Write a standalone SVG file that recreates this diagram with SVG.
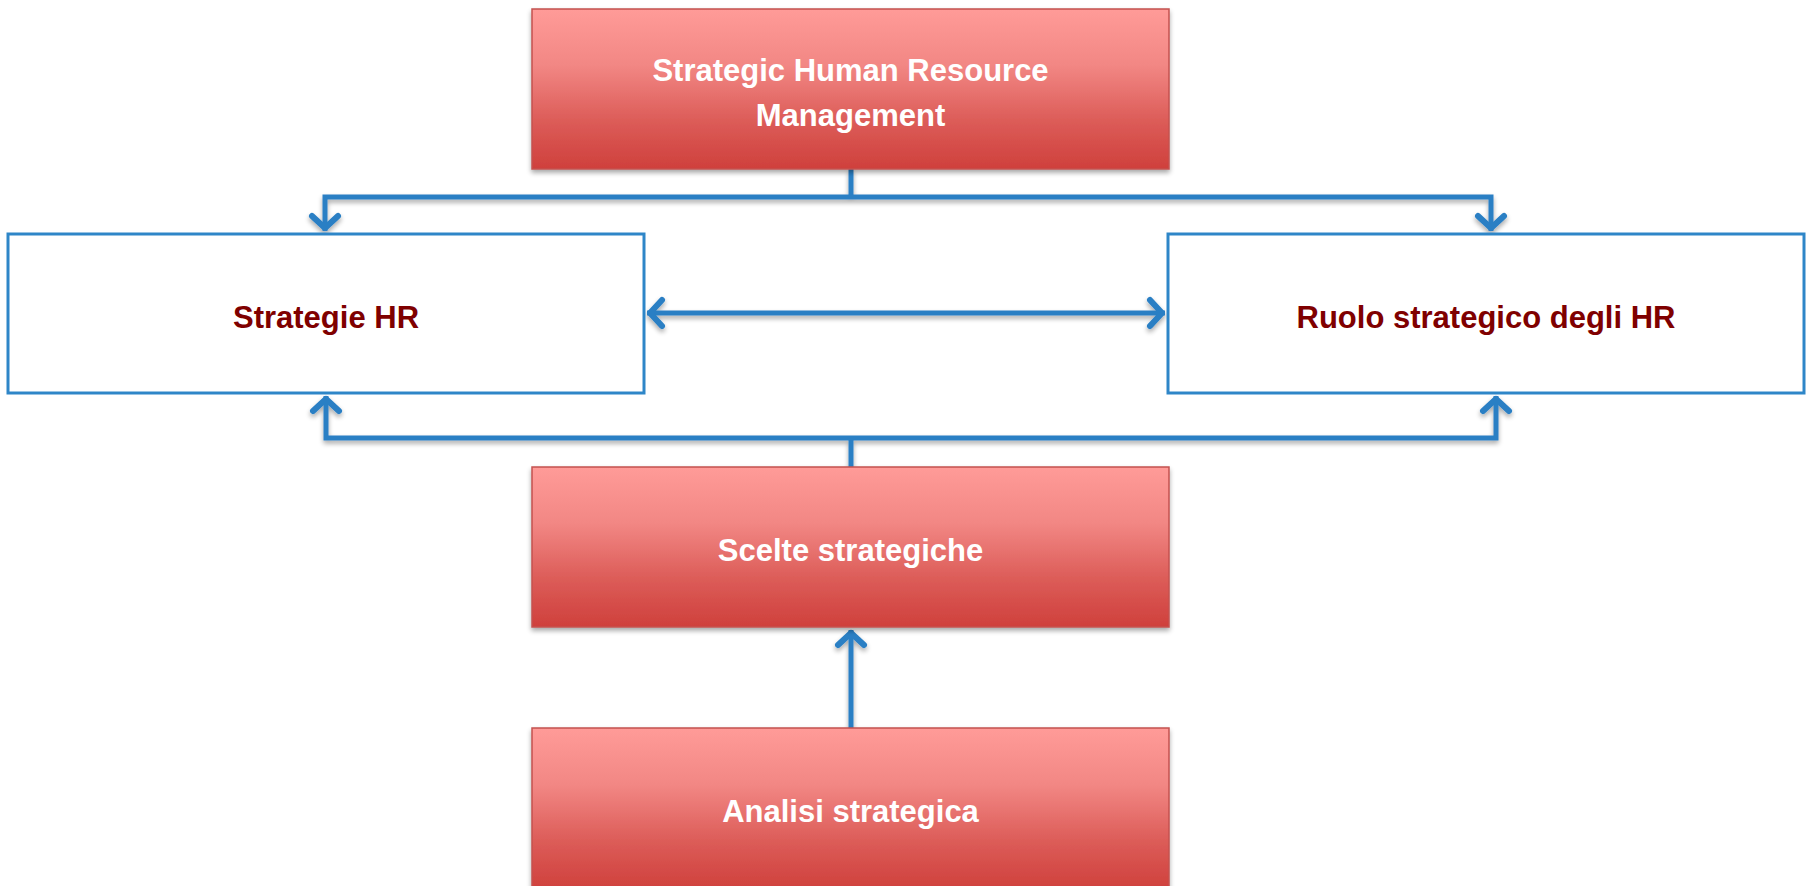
<svg xmlns="http://www.w3.org/2000/svg" width="1810" height="886" viewBox="0 0 1810 886">
  <defs>
    <linearGradient id="redGrad" x1="0" y1="0" x2="0" y2="1">
      <stop offset="0" stop-color="#FF9B98"/>
      <stop offset="0.35" stop-color="#F28784"/>
      <stop offset="0.7" stop-color="#DC5C58"/>
      <stop offset="1" stop-color="#CF403C"/>
    </linearGradient>
    <filter id="shadow" x="-5%" y="-10%" width="110%" height="130%">
      <feGaussianBlur in="SourceAlpha" stdDeviation="2.5"/>
      <feOffset dx="0" dy="3" result="b"/>
      <feComponentTransfer><feFuncA type="linear" slope="0.35"/></feComponentTransfer>
      <feMerge><feMergeNode/><feMergeNode in="SourceGraphic"/></feMerge>
    </filter>
    <marker id="chev" markerUnits="userSpaceOnUse" viewBox="-18 -18 24 36" refX="3" refY="0" markerWidth="24" markerHeight="36" orient="auto-start-reverse">
      <path d="M -12 -13 L 0 0 L -12 13" fill="none" stroke="#2A7FC4" stroke-width="6" stroke-linecap="round" stroke-linejoin="round"/>
    </marker>
    <style>
      .red { fill: url(#redGrad); stroke: #C4524F; stroke-width: 1.5; filter: url(#shadow); }
      .white { fill: #FFFFFF; stroke: #2E86C8; stroke-width: 3; }
      .wt { font-family: "Liberation Sans", Arial, sans-serif; font-weight: bold; font-size: 31px; fill: #FFFFFF; text-anchor: middle; }
      .dt { font-family: "Liberation Sans", Arial, sans-serif; font-weight: bold; font-size: 31px; fill: #7F0000; text-anchor: middle; }
      .conn { fill: none; stroke: #2A7FC4; stroke-width: 5; }
    </style>
  </defs>
  <rect width="1810" height="886" fill="#FFFFFF"/>

  <g id="connectors" filter="url(#shadow)">
    <path class="conn" d="M851 169 V197"/>
    <path class="conn" d="M851 197 H325 V231" marker-end="url(#chev)"/>
    <path class="conn" d="M851 197 H1491 V231" marker-end="url(#chev)"/>
    <path class="conn" d="M647 313 H1165" marker-start="url(#chev)" marker-end="url(#chev)"/>
    <path class="conn" d="M851 467 V438"/>
    <path class="conn" d="M851 438 H326 V396" marker-end="url(#chev)"/>
    <path class="conn" d="M851 438 H1496 V396" marker-end="url(#chev)"/>
    <path class="conn" d="M851 728 V630" marker-end="url(#chev)"/>
  </g>

  <g id="shrm">
    <rect class="red" x="532" y="9" width="637" height="160"/>
    <text class="wt" x="850.5" y="81">Strategic Human Resource</text>
    <text class="wt" x="850.5" y="126">Management</text>
  </g>
  <g id="strategie-hr">
    <rect class="white" x="8" y="234" width="636" height="159"/>
    <text class="dt" x="326" y="328">Strategie HR</text>
  </g>
  <g id="ruolo-strategico">
    <rect class="white" x="1168" y="234" width="636" height="159"/>
    <text class="dt" x="1486" y="328">Ruolo strategico degli HR</text>
  </g>
  <g id="scelte-strategiche">
    <rect class="red" x="532" y="467" width="637" height="160"/>
    <text class="wt" x="850.5" y="561">Scelte strategiche</text>
  </g>
  <g id="analisi-strategica">
    <rect class="red" x="532" y="728" width="637" height="162"/>
    <text class="wt" x="850.5" y="822">Analisi strategica</text>
  </g>
</svg>
